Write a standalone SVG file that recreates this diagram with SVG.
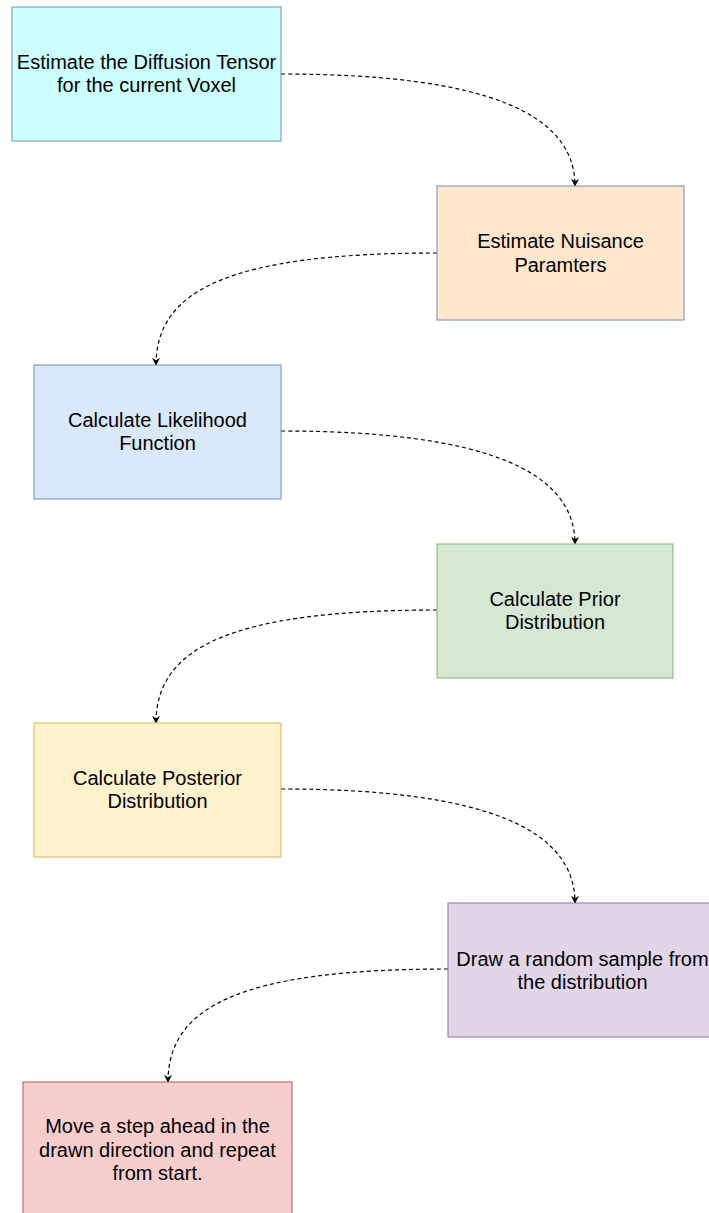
<svg xmlns="http://www.w3.org/2000/svg" width="709" height="1213" viewBox="0 0 709 1213">
<style>
.t{font-family:"Liberation Sans",Arial,Helvetica,sans-serif;font-size:20px;fill:#000;text-anchor:middle}
.c{fill:none;stroke:#000;stroke-width:1.2;stroke-dasharray:4 3;marker-end:url(#ah)}
</style>
<defs>
<marker id="ah" viewBox="0 0 10 10" refX="9" refY="5" markerWidth="8" markerHeight="8" markerUnits="userSpaceOnUse" orient="auto">
<path d="M0,0 L10,5 L0,10 L3,5 Z" fill="#000"/>
</marker>
</defs>
<rect width="709" height="1213" fill="#fff"/>
<g id="connectors">
<path class="c" d="M281,74 C490,74 575,115 575,186"/>
<path class="c" d="M437,253 C230,253 156,290 156,365"/>
<path class="c" d="M281,431 C490,431 575,473 575,544"/>
<path class="c" d="M437,610 C230,610 156,648 156,723"/>
<path class="c" d="M281,789 C490,789 575,831 575,903"/>
<path class="c" d="M448,969 C240,969 168,1007 168,1082"/>
</g>
<g id="n1">
<rect x="12" y="7" width="269" height="134" fill="#CCFFFF" stroke="#6C8EBF"/>
<text class="t" x="146.5" y="69">Estimate the Diffusion Tensor</text>
<text class="t" x="146.5" y="92">for the current Voxel</text>
</g>
<g id="n2">
<rect x="437" y="186" width="247" height="134" fill="#FFE6CC" stroke="#6C8EBF"/>
<text class="t" x="560.5" y="248">Estimate Nuisance</text>
<text class="t" x="560.5" y="272">Paramters</text>
</g>
<g id="n3">
<rect x="34" y="365" width="247" height="134" fill="#DAE8FC" stroke="#6C8EBF"/>
<text class="t" x="157.5" y="427">Calculate Likelihood</text>
<text class="t" x="157.5" y="450">Function</text>
</g>
<g id="n4">
<rect x="437" y="544" width="236" height="134" fill="#D5E8D4" stroke="#82B366"/>
<text class="t" x="555" y="606">Calculate Prior</text>
<text class="t" x="555" y="629">Distribution</text>
</g>
<g id="n5">
<rect x="34" y="723" width="247" height="134" fill="#FFF2CC" stroke="#D6B656"/>
<text class="t" x="157.5" y="785">Calculate Posterior</text>
<text class="t" x="157.5" y="808">Distribution</text>
</g>
<g id="n6">
<rect x="448" y="903" width="269" height="134" fill="#E1D5E7" stroke="#9673A6"/>
<text class="t" x="582.5" y="966">Draw a random sample from</text>
<text class="t" x="582.5" y="989">the distribution</text>
</g>
<g id="n7">
<rect x="23" y="1082" width="269" height="134" fill="#F8CECC" stroke="#B85450"/>
<text class="t" x="157.5" y="1133">Move a step ahead in the</text>
<text class="t" x="157.5" y="1157">drawn direction and repeat</text>
<text class="t" x="157.5" y="1180">from start.</text>
</g>
</svg>
